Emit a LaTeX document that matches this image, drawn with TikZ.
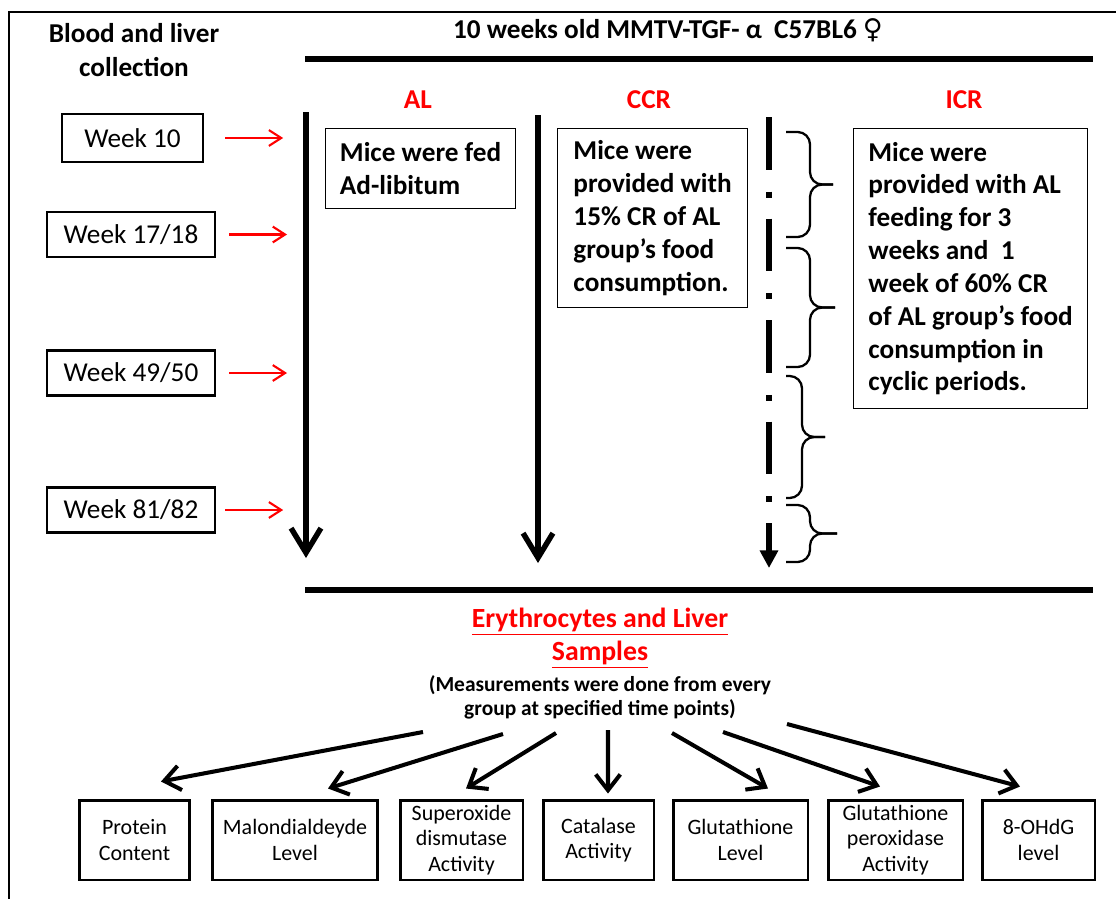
\documentclass[tikz,border=0pt]{standalone}
\usepackage{fontspec}
\setmainfont{Carlito}
\newfontfamily\symfont{DejaVu Sans}
\usetikzlibrary{arrows.meta,calc}

\begin{document}
\begin{tikzpicture}[x=0.02cm,y=-0.02cm,
	headfont/.style={font=\bfseries\fontsize{15.5}{19.3}\selectfont},
	grouplabel/.style={text=red,font=\bfseries\fontsize{15.5}{18}\selectfont},
	weekbox/.style={draw,line width=1.5pt,inner sep=0pt,minimum width=3.36cm,minimum height=0.9cm,font=\fontsize{15.5}{18}\selectfont},
	dietbox/.style={draw,line width=0.7pt,anchor=north west,align=left,inner xsep=0.2cm,inner ysep=0pt,font=\bfseries\fontsize{15.5}{18.7}\selectfont},
	assaybox/.style={draw,line width=1.7pt,minimum height=1.6cm,inner sep=0pt,align=center,font=\fontsize{12.5}{14.5}\selectfont},
	timeline/.style={line width=3.1pt,-{Straight Barb[length=14pt,width=17pt]}},
	redarrow/.style={red,line width=1.2pt,-{Straight Barb[length=7pt,width=9pt]}},
	outarrow/.style={line width=2.3pt,-{Straight Barb[length=9pt,width=14pt]}},
	bracepen/.style={line width=1.3pt,rounded corners=7pt}]
		
		\useasboundingbox (0,0) rectangle (1116,899);
		
		% Frame
		\draw[line width=1pt] (9,899) -- (9,12) -- (1116,12);
		
		% Headings
		\node[headfont,align=center] (collect) at (134,50) {Blood and liver\\collection};
		\node[headfont] (strain) at (668,30) {10 weeks old MMTV-TGF- α\ \ C57BL6 {\symfont ♀}};
		\draw[line width=3pt] (305,59) -- (1093,59);
		\draw[line width=3pt] (305,590) -- (1093,590);
		
		% Groups
		\node[grouplabel] (al) at (418,100) {AL};
		\node[grouplabel] (ccr) at (649,100) {CCR};
		\node[grouplabel] (icr) at (964,100) {ICR};
		
		% Time lines of the three groups
		\coordinate (alTop) at (306,112);
		\coordinate (alEnd) at (306,558);
		\coordinate (ccrTop) at (538,115);
		\coordinate (ccrEnd) at (538,563);
		\coordinate (icrTop) at (769,117);
		\coordinate (icrEnd) at (769,568);
		\draw[timeline] (alTop) -- (alEnd);
		\draw[timeline] (ccrTop) -- (ccrEnd);
		\draw[line width=3.7pt,dash pattern=on 30pt off 12.5pt on 3.4pt off 11.9pt,
		-{Triangle[length=10pt,width=10pt]}] (icrTop) -- (icrEnd);
		
		% Collection weeks
		\node[weekbox,minimum width=2.82cm,minimum height=0.96cm] (w1) at (132.5,138) {Week 10};
		\node[weekbox] (w2) at (131,234.5) {Week 17/18};
		\node[weekbox] (w3) at (131,373) {Week 49/50};
		\node[weekbox] (w4) at (131,510) {Week 81/82};
		\foreach \w/\ga/\gb in {w1/12pt/13pt,w2/7.4pt/10.8pt,w3/7.4pt/10.8pt,w4/5pt/13pt}
		\draw[redarrow,shorten <=\ga,shorten >=\gb] (\w.east) -- (\w.east -| alTop);
		
		% Feeding of each group
		\node[dietbox,minimum width=3.8cm,minimum height=1.6cm] (alfeed) at (325,128)
		{Mice were fed\\Ad-libitum};
		\node[dietbox,minimum width=3.8cm,minimum height=3.58cm] (ccrfeed) at (557,128)
		{Mice were\\provided with\\15\% CR of AL\\group’s food\\consumption.};
		\node[dietbox,minimum width=4.68cm,minimum height=5.6cm] (icrfeed) at (853,128)
		{Mice were\\provided with AL\\feeding for 3\\weeks and\ \ 1\\week of 60\% CR\\of AL group’s food\\consumption in\\cyclic periods.};
		
		% Cycles: 3 weeks AL + 1 week CR
		\newcommand{\icrcycle}[4]{% top, bottom, body x, tip x
			\draw[bracepen] (786,#1) -- (#3,#1) -- (#3,{(#1+#2)/2}) -- (#4,{(#1+#2)/2});
			\draw[bracepen] (786,#2) -- (#3,#2) -- (#3,{(#1+#2)/2}) -- (#4,{(#1+#2)/2});
		}
		\icrcycle{132}{237}{810}{833}
		\icrcycle{248}{367}{810}{835}
		\icrcycle{376}{498}{802}{825}
		\icrcycle{505}{562}{810}{837}
		
		% Samples
		\node[text=red,font=\bfseries\fontsize{15.8}{18.7}\selectfont,align=center] (samples) at (600,638.5)
		{\underline{Erythrocytes and Liver}\\\underline{Samples}};
		\node[font=\bfseries\fontsize{12.2}{13.6}\selectfont,align=center] (note) at (600,697)
		{(Measurements were done from every\\group at specified time points)};
		
		% Measured parameters
		\node[assaybox,minimum width=2.22cm] (b1) at (134.5,840) {Protein\\Content};
		\node[assaybox,minimum width=3.32cm] (b2) at (295,840) {Malondialdeyde\\Level};
		\node[assaybox,minimum width=2.46cm] (b3) at (461.5,840) {Superoxide\\dismutase\\Activity};
		\node[assaybox,minimum width=2.22cm] (b4) at (598.5,840) {Catalase\\Activity};
		\node[assaybox,minimum width=2.7cm] (b5) at (740.5,840) {Glutathione\\Level};
		\node[assaybox,minimum width=2.7cm] (b6) at (895.5,840) {Glutathione\\peroxidase\\Activity};
		\node[assaybox,minimum width=2.26cm] (b7) at (1038.5,840) {8-OHdG\\level};
		
		\coordinate (m1) at (423,732);
		\coordinate (m2) at (503,734);
		\coordinate (m3) at (556,733);
		\coordinate (m4) at (608,730);
		\coordinate (m5) at (672,733);
		\coordinate (m6) at (723,732);
		\coordinate (m7) at (787,724);
		\foreach \m/\b/\dx/\dy in {m1/b1/26.5/-17,m2/b2/33/-10,m3/b3/4.5/-10,m4/b4/9.5/-5,
			m5/b5/27.5/-10,m6/b6/-15.5/-12,m7/b7/-18.5/-12}
		\draw[outarrow] (\m) -- ($(\b.north)+(\dx,\dy)$);
	\end{tikzpicture}
\end{document}
